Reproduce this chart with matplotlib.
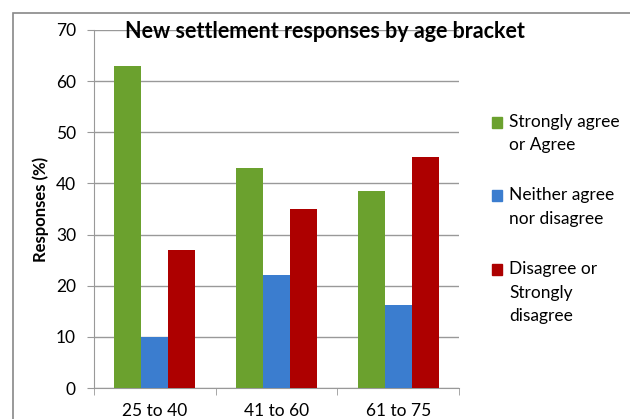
import numpy as np
import matplotlib.pyplot as plt
from matplotlib.patches import Rectangle
from matplotlib.legend_handler import HandlerPatch

plt.rcParams['font.family'] = ['Lato', 'DejaVu Sans']

groups = ['25 to 40', '41 to 60', '61 to 75']
series = ['Strongly agree\nor Agree', 'Neither agree\nnor disagree', 'Disagree or\nStrongly\ndisagree']
agree = [63, 43, 38.6]
neither = [10, 22, 16.2]
disagree = [27, 35, 45.2]
colors = ['#6BA12E', '#3B7DCF', '#AD0000']

fig = plt.figure(figsize=(6.3, 4.19), dpi=100)
ax = fig.add_axes([94/630, 1-388/419, (459-94)/630, (388-30)/419])

# outer chart frame
fig.patches.append(Rectangle((13/630, -0.1), 1.0, 1-13/419+0.1, transform=fig.transFigure,
                             fill=False, edgecolor='#888888', lw=1.2))

x = np.arange(len(groups))
w = 0.222
for i, vals in enumerate([agree, neither, disagree]):
    ax.bar(x + (i-1)*w, vals, w, color=colors[i], zorder=3)

ax.set_xlim(-0.5, 2.5)
ax.set_ylim(0, 70)
ax.set_yticks(range(0, 71, 10))
ax.grid(axis='y', color='#999999', lw=1, zorder=0)
ax.set_xticks(x)
ax.set_xticklabels(groups, fontsize=12.5)
ax.set_xticks([-0.5, 0.5, 1.5, 2.5], minor=True)
ax.tick_params(axis='x', which='major', length=0, pad=11)
ax.tick_params(axis='x', which='minor', length=5, color='#999999')
ax.tick_params(axis='y', length=5, color='#999999', labelsize=12.5, pad=8)
for s in ['top', 'right']:
    ax.spines[s].set_visible(False)
for s in ['left', 'bottom']:
    ax.spines[s].set_color('#999999')
ax.set_ylabel('Responses (%)', fontsize=12, fontweight='bold', labelpad=5)

fig.text(325/630, 1-32/419, 'New settlement responses by age bracket', ha='center', va='center',
         fontsize=15.5, fontweight='bold')


# legend squares sit on the first line of each label
def top_square(nlines):
    dy = (nlines - 1) * 8.3
    def make(legend=None, orig_handle=None, xdescent=0, ydescent=0, width=1, height=1,
             fontsize=10):
        return Rectangle((-xdescent, -ydescent + dy), width, height)
    return HandlerPatch(patch_func=make)


proxies = [Rectangle((0, 0), 1, 1, color=c) for c in colors]
hmap = {p: top_square(lab.count('\n') + 1) for p, lab in zip(proxies, series)}
leg = fig.legend(proxies, series, handler_map=hmap, loc='upper left',
                 bbox_to_anchor=(476/630, 1-98/419), frameon=False, fontsize=12.5,
                 handlelength=0.6, handleheight=0.6, handletextpad=0.4, labelspacing=2.0)
for t in leg.get_texts():
    t.set_linespacing(1.55)

fig.savefig('out.png', dpi=100)
